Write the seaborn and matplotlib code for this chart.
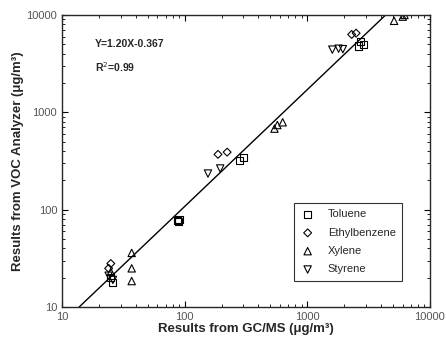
import numpy as np
import pandas as pd
import matplotlib
matplotlib.use("Agg")
import matplotlib.pyplot as plt
import seaborn as sns

# values (ug/m3)
toluene_x = [25, 26, 88, 89, 90, 280, 300, 2600, 2700, 2850]
toluene_y = [20, 18, 78, 75, 80, 320, 345, 4800, 5300, 5000]
ethyl_x = [24, 25, 187, 222, 2300, 2500]
ethyl_y = [25, 28, 370, 390, 6300, 6500]
xylene_x = [25, 37, 37, 37, 540, 570, 630, 5100, 6000, 6200]
xylene_y = [23, 36, 25, 18.5, 680, 740, 790, 8700, 9600, 10000]
styrene_x = [24, 26, 155, 195, 1600, 1800, 1950]
styrene_y = [21, 19, 235, 265, 4400, 4500, 4450]

slope, intercept = 1.20, -0.367

sns.set_style("ticks")
plt.rcParams["font.family"] = ["Liberation Sans", "DejaVu Sans"]

fig = plt.figure(figsize=(4.46, 3.47), dpi=100)
ax = fig.add_axes([0.139, 0.115, 0.825, 0.842])

series = [("Toluene", toluene_x, toluene_y, "s", 26),
          ("Ethylbenzene", ethyl_x, ethyl_y, "D", 16),
          ("Xylene", xylene_x, xylene_y, "^", 28),
          ("Styrene", styrene_x, styrene_y, "v", 28)]
for name, xs, ys, mk, sz in series:
    sns.scatterplot(x=xs, y=ys, ax=ax, marker=mk, s=sz, color="black",
                    facecolor="none", edgecolor="black", linewidth=0.8, label=name)

# regression line in log space
lx = np.linspace(1, 4, 50)
ax.plot(10 ** lx, 10 ** (slope * lx + intercept), color="black", lw=1)

ax.set_xscale("log")
ax.set_yscale("log")
ax.set_xlim(10, 10000)
ax.set_ylim(10, 10000)
ax.set_xticks([10, 100, 1000, 10000])
ax.set_xticklabels(["10", "100", "1000", "10000"])
ax.set_yticks([10, 100, 1000, 10000])
ax.set_yticklabels(["10", "100", "1000", "10000"])
ax.tick_params(which="both", direction="in", top=True, right=True, labelsize=8, colors="black",
               labelcolor="#555555")
ax.tick_params(which="major", length=4)
ax.tick_params(which="minor", length=2)
for s in ax.spines.values():
    s.set_linewidth(1)

ax.set_xlabel("Results from GC/MS (\u03bcg/m\u00b3)", fontsize=9.5, fontweight="bold", labelpad=1)
ax.set_ylabel("Results from VOC Analyzer (\u03bcg/m\u00b3)", fontsize=9.5, fontweight="bold", labelpad=2)

ax.text(0.09, 0.90, "Y=1.20X-0.367", transform=ax.transAxes, fontsize=7.5, fontweight="bold",
        va="center")
ax.text(0.09, 0.82, "R$^2$=0.99", transform=ax.transAxes, fontsize=7.5, fontweight="bold",
        va="center")

leg = ax.legend(loc="lower right", bbox_to_anchor=(0.94, 0.07), fontsize=8, frameon=True,
                fancybox=False, edgecolor="black", handlelength=1.2, handletextpad=1.2,
                labelspacing=0.75, borderpad=0.6)
leg.get_frame().set_linewidth(0.8)

fig.savefig("out.png", dpi=100)
